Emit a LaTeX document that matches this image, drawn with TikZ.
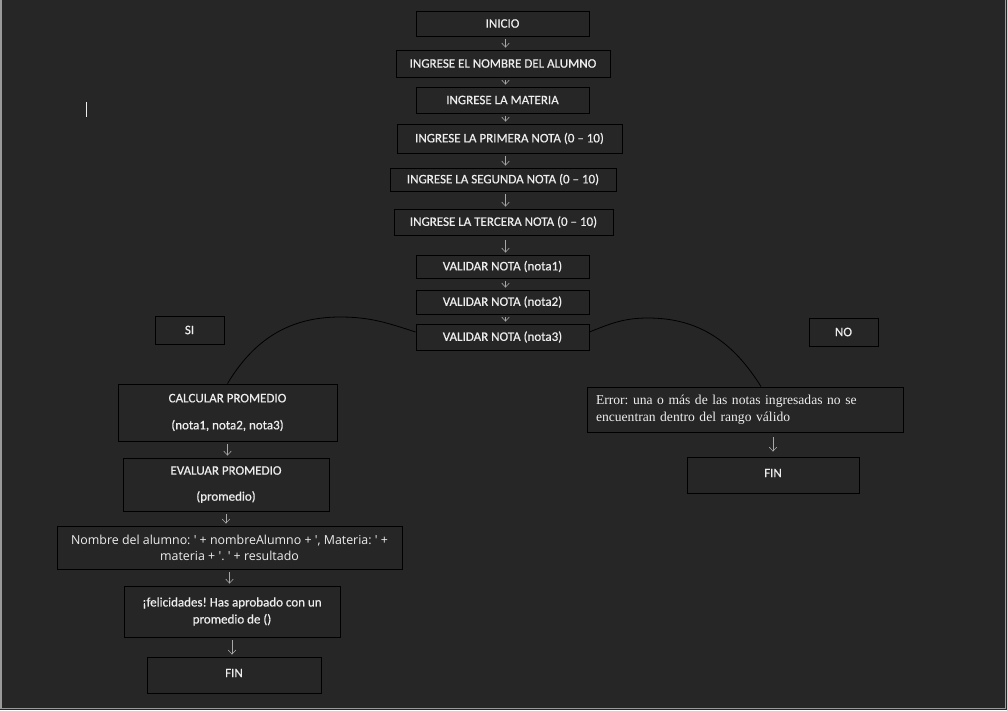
\documentclass[tikz,border=0pt]{standalone}
\usepackage{fontspec}
\setmainfont{Carlito}[FakeBold=0.5]
\newfontfamily\errfont{Liberation Serif}
\newfontfamily\msgfont{Open Sans}
\usetikzlibrary{arrows.meta}
\definecolor{bg}{HTML}{262626}
\definecolor{txt}{HTML}{EDEDED}
\definecolor{arrc}{HTML}{A8A8A8}
\definecolor{framec}{HTML}{9A9A9A}
\begin{document}
\frenchspacing
\begin{tikzpicture}[x=1pt,y=-1pt,
  box/.style={draw=black, line width=0.9pt, text=txt, font=\fontsize{13}{16}\selectfont, inner sep=0pt, align=center},
  arr/.style={draw=arrc, line width=0.6pt, -{Straight Barb[length=4pt,width=7.5pt]}, shorten <=3pt, shorten >=2pt},
  link/.style={draw=black, line width=0.8pt}]
\fill[bg] (0,0) rectangle (1007,710);
\useasboundingbox (0,0) rectangle (1007,710);
\draw[framec, line width=1.2pt] (1,0) -- (1,708.5) -- (1005.5,708.5) -- (1005.5,0);
\draw[txt, line width=1pt] (86,102) -- (86,117);

\node[box, minimum width=173pt, minimum height=25pt] (inicio) at (502.5,23.5) {\raisebox{-1pt}{INICIO}};
\node[box, minimum width=214pt, minimum height=27pt] (nombre) at (503,63.5) {INGRESE EL NOMBRE DEL ALUMNO};
\node[box, minimum width=173pt, minimum height=26pt] (materia) at (502.5,100) {INGRESE LA MATERIA};
\node[box, minimum width=225pt, minimum height=29pt] (primera) at (509.5,138.5) {INGRESE LA PRIMERA NOTA (0 -- 10)};
\node[box, minimum width=226pt, minimum height=23pt] (segunda) at (503,179.5) {INGRESE LA SEGUNDA NOTA (0 -- 10)};
\node[box, minimum width=219pt, minimum height=26pt] (tercera) at (503.5,222) {INGRESE LA TERCERA NOTA (0 -- 10)};
\node[box, minimum width=173pt, minimum height=23pt] (v1) at (502.5,266.5) {VALIDAR NOTA (nota1)};
\node[box, minimum width=173pt, minimum height=24pt] (v2) at (502.5,302) {VALIDAR NOTA (nota2)};
\node[box, minimum width=173pt, minimum height=26pt] (v3) at (502.5,337) {VALIDAR NOTA (nota3)};
\node[box, minimum width=69pt, minimum height=28pt] (si) at (189.5,330) {SI};
\node[box, minimum width=69pt, minimum height=28pt] (no) at (843.5,332) {NO};
\node[box, minimum width=219pt, minimum height=57pt] (calc) at (227.5,412.5) {CALCULAR PROMEDIO\\[11pt](nota1, nota2, nota3)};
\node[box, minimum width=206pt, minimum height=53pt] (eval) at (226,484.5) {EVALUAR PROMEDIO\\[10pt](promedio)};
\node[box, minimum width=345pt, minimum height=43pt, font=\msgfont\fontsize{12.4}{16}\selectfont] (msg) at (229.5,547.5) {Nombre del alumno: ' + nombreAlumno + ', Materia: ' +\\materia + '. ' + resultado};
\node[box, minimum width=216pt, minimum height=51pt, font=\fontsize{13}{17}\selectfont] (felic) at (232,611.5) {¡felicidades! Has aprobado con un\\promedio de ()};
\node[box, minimum width=174pt, minimum height=36pt] (fin1) at (234,675) {\raisebox{4pt}{FIN}};
\node[box, text width=298pt, inner xsep=9pt, minimum height=45pt, align=left, font=\errfont\fontsize{13.6}{17}\selectfont] (err) at (745,409.5) {Error: una o más de las notas ingresadas no se\\encuentran dentro del rango válido};
\node[box, minimum width=172pt, minimum height=36pt] (fin2) at (773,475) {\raisebox{4pt}{FIN}};

\coordinate (ax) at (505.5,0);
\draw[arr] (inicio.south -| ax) -- (nombre.north -| ax);
\draw[arr] (nombre.south -| ax) -- (materia.north -| ax);
\draw[arr] (materia.south -| ax) -- (primera.north -| ax);
\draw[arr] (primera.south -| ax) -- (segunda.north -| ax);
\draw[arr] (segunda.south -| ax) -- (tercera.north -| ax);
\draw[arr, shorten <=5pt] (tercera.south -| ax) -- (v1.north -| ax);
\draw[arr] (v1.south -| ax) -- (v2.north -| ax);
\draw[arr] (v2.south -| ax) -- (v3.north -| ax);

\draw[arr] (calc.south) -- (calc.south |- eval.north);
\draw[arr] (eval.south) -- (eval.south |- msg.north);
\draw[arr] (msg.south) -- (msg.south |- felic.north);
\draw[arr] (felic.south) -- (felic.south |- fin1.north);
\draw[arr, shorten <=5pt, shorten >=5pt] (fin2.north |- err.south) -- (fin2.north);

\coordinate (pkL) at (340,317);
\coordinate (pkR) at (648,318);
\draw[link] ([yshift=5pt]v3.west) to[out=162,in=0] (pkL) to[out=180,in=59] (calc.north);
\draw[link] ([yshift=5pt]v3.east) to[out=22,in=180] (pkR) to[out=0,in=122] ([xshift=16pt]err.north);
\end{tikzpicture}
\end{document}
